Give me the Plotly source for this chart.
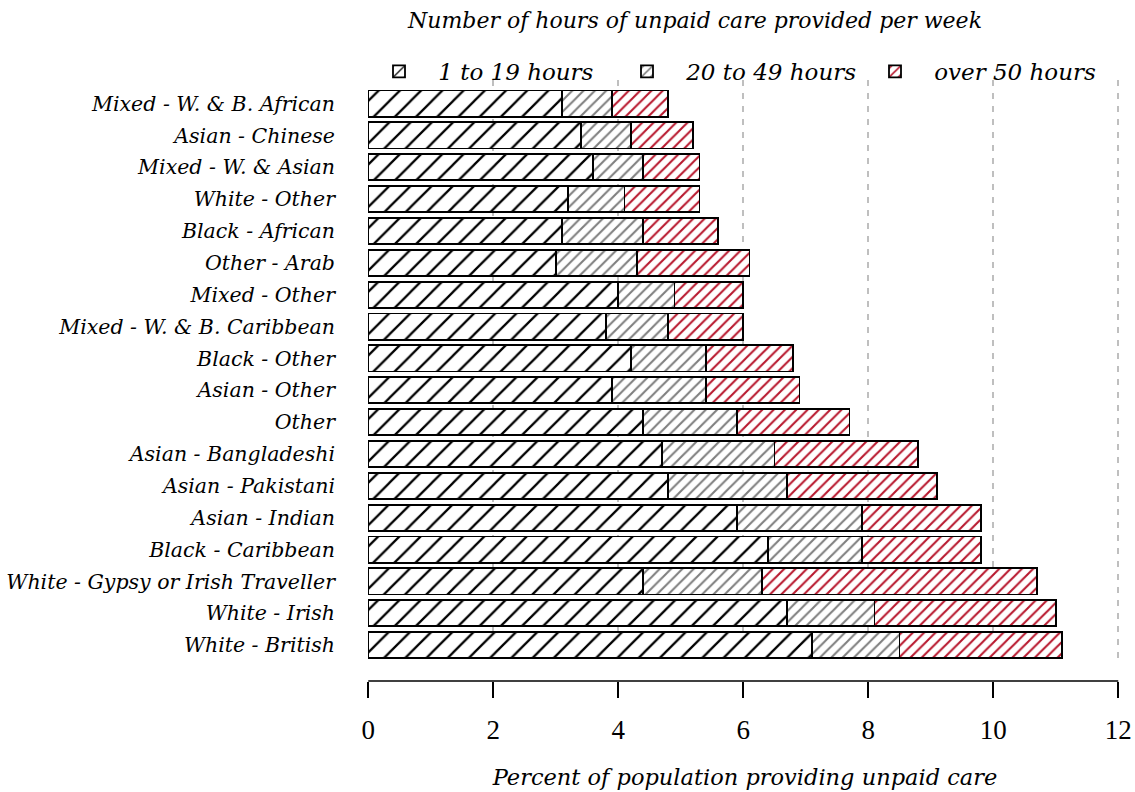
import plotly.graph_objects as go

categories = [
    "White - British", "White - Irish", "White - Gypsy or Irish Traveller",
    "Black - Caribbean", "Asian - Indian", "Asian - Pakistani",
    "Asian - Bangladeshi", "Other", "Asian - Other", "Black - Other",
    "Mixed - W. & B. Caribbean", "Mixed - Other", "Other - Arab",
    "Black - African", "White - Other", "Mixed - W. & Asian",
    "Asian - Chinese", "Mixed - W. & B. African",
]
hours_1_19 = [7.1, 6.7, 4.4, 6.4, 5.9, 4.8, 4.7, 4.4, 3.9, 4.2, 3.8, 4.0, 3.0, 3.1, 3.2, 3.6, 3.4, 3.1]
hours_20_49 = [1.4, 1.4, 1.9, 1.5, 2.0, 1.9, 1.8, 1.5, 1.5, 1.2, 1.0, 0.9, 1.3, 1.3, 0.9, 0.8, 0.8, 0.8]
hours_50_plus = [2.6, 2.9, 4.4, 1.9, 1.9, 2.4, 2.3, 1.8, 1.5, 1.4, 1.2, 1.1, 1.8, 1.2, 1.2, 0.9, 1.0, 0.9]
series_names = ["1 to 19 hours", "20 to 49 hours", "over 50 hours"]
x_ticks = [0, 2, 4, 6, 8, 10, 12]

FONT = "DejaVu Serif"
NUM_FONT = "Liberation Serif"
W, H = 1135, 792

series = [hours_1_19, hours_20_49, hours_50_plus]
hatch_colors = ["black", "#7f7f7f", "#b8182e"]
hatch_sizes = [15, 8, 8]
hatch_solid = [0.15, 0.26, 0.26]

fig = go.Figure()
for name, vals, col, sz, so in zip(series_names, series, hatch_colors, hatch_sizes, hatch_solid):
    fig.add_trace(go.Bar(
        y=categories, x=vals, name="\u00a0\u00a0\u2009<i>" + name + "</i>",
        orientation="h", width=0.82,
        marker=dict(
            color="white",
            line=dict(color="black", width=1.8),
            pattern=dict(shape="/", fgcolor=col, fgopacity=1, bgcolor="white",
                         size=sz, solidity=so, fillmode="overlay"),
        ),
    ))

plot_top, plot_bottom, axis_y = 80, 663, 681
plot_h = axis_y - plot_top

fig.update_layout(
    width=W, height=H,
    barmode="stack",
    plot_bgcolor="white", paper_bgcolor="white",
    margin=dict(l=368, r=13, t=plot_top, b=H - axis_y, autoexpand=False),
    font=dict(family=FONT, color="black"),
    title=dict(
        text="<i>Number of hours of unpaid care provided per week</i>",
        xref="container", x=695 / W, xanchor="center",
        yref="container", y=1 - 20 / H, yanchor="middle",
        font=dict(family=FONT, size=22, color="black"),
    ),
    legend=dict(
        orientation="h", traceorder="normal",
        xref="container", x=379 / W, xanchor="left",
        yref="container", y=1 - 50 / H, yanchor="top",
        entrywidth=203, entrywidthmode="pixels",
        font=dict(family=FONT, size=23, color="black"),
        bgcolor="rgba(0,0,0,0)",
    ),
    showlegend=True,
)

fig.update_xaxes(
    range=[-0.004, 12.06], tickvals=x_ticks, ticktext=[str(v) for v in x_ticks],
    showgrid=True, gridcolor="#bfbfbf", gridwidth=1.5, griddash="6px,7px",
    zeroline=False,
    showline=False,
    ticks="outside", ticklen=16, tickwidth=1.6, tickcolor="black",
    tickfont=dict(family=NUM_FONT, size=27, color="black"),
    ticklabelstandoff=9,
    anchor="free", position=0,
    title=dict(text="<i>Percent of population providing unpaid care</i>",
               font=dict(family=FONT, size=22.5, color="black"), standoff=24),
)
fig.update_yaxes(
    type="category", categoryorder="array", categoryarray=categories,
    range=[-0.56, 17.74],
    domain=[(axis_y - plot_bottom) / plot_h, 1],
    showgrid=False, zeroline=False, showline=False, ticks="",
    ticklabelstandoff=32,
    tickfont=dict(family=FONT, size=20.5, color="black"),
    tickprefix="<i>", ticksuffix="</i>",
)
# Axis spine spanning exactly the 0..12 data extent (as in the reference)
fig.add_shape(type="line", xref="x", yref="paper", x0=0, x1=12, y0=0, y1=0,
              line=dict(color="black", width=1.6), layer="above")

fig.write_html(
    "out.html",
    config={"displayModeBar": False},
    post_script="document.body.style.margin='0';document.body.style.padding='0';",
)
